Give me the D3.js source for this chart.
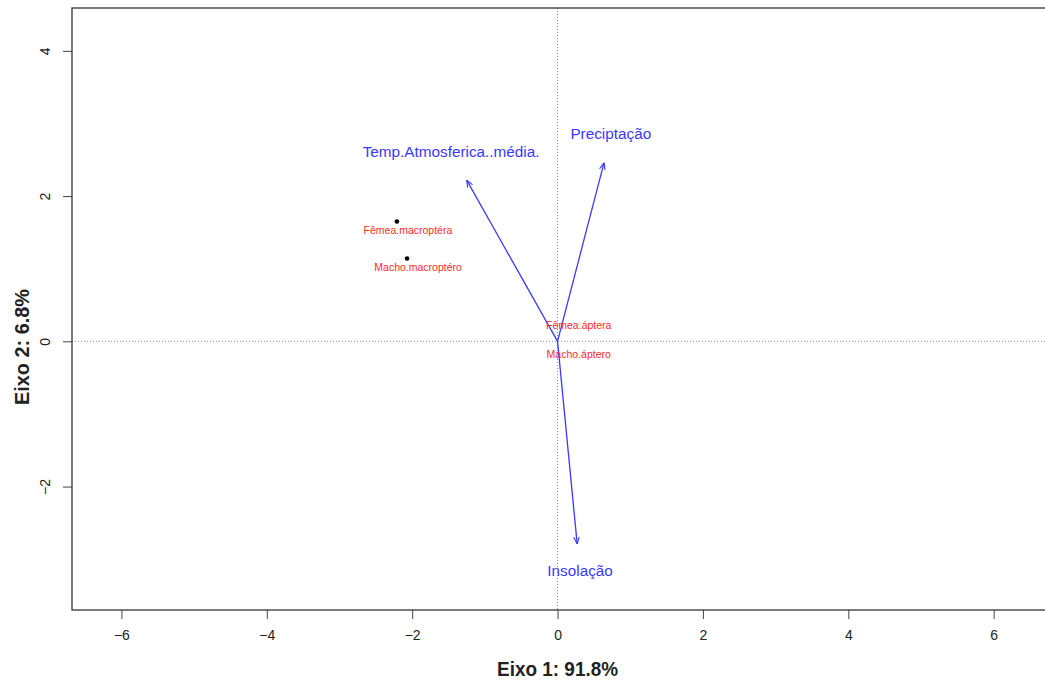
<!DOCTYPE html>
<html lang="pt">
<head>
<meta charset="utf-8">
<script src="https://d3js.org/d3.v7.min.js"></script>
<style>
  body { margin: 0; background: #fff; }
  svg { display: block; font-family: "Liberation Sans", Arial, sans-serif; }
  .tick text { font-size: 14px; fill: #222; }
  .axis-title { font-family: "Liberation Sans Narrow", "Arial Narrow", "Liberation Sans", sans-serif; font-weight: bold; font-size: 21px; fill: #222; }
</style>
</head>
<body>
<svg id="chart" width="1045" height="684"></svg>
<script>
// site scores (points) and their labels
var siteNames = ["Fêmea.macroptéra", "Macho.macroptéro", "Fêmea.áptera", "Macho.áptero"];
var siteX = [-2.21, -2.07, 0.14, 0.14];
var siteY = [1.65, 1.14, 0.35, -0.05];
var siteDot = [true, true, false, false];

// environmental vectors (arrow tips and label spots)
var envNames = ["Temp.Atmosferica..média.", "Precipta\u00e7\u00e3o", "Insola\u00e7\u00e3o"];
var envX = [-1.25, 0.64, 0.27];
var envY = [2.22, 2.46, -2.79];
var envLabelX = [-1.465, 0.733, 0.31];
var envLabelY = [2.61, 2.86, -3.16];

var xTicks = [-6, -4, -2, 0, 2, 4, 6];
var yTicks = [-2, 0, 2, 4];

var svg = d3.select("#chart");
var mLeft = 72, mTop = 8, mRight = 1046, mBottom = 610;

var x = d3.scaleLinear().domain([-6.68, 6.72]).range([mLeft, mRight]);
var y = d3.scaleLinear().domain([-3.70, 4.59]).range([mBottom, mTop]);

/* axes */
svg.append("g")
    .attr("transform", "translate(0," + mBottom + ")")
    .call(d3.axisBottom(x).tickValues(xTicks).tickSize(9).tickPadding(11).tickSizeOuter(0))
    .call(function(g) { g.select(".domain").remove(); })
    .call(function(g) { g.selectAll(".tick line").attr("stroke", "#444"); });

svg.append("g")
    .attr("transform", "translate(" + mLeft + ",0)")
    .call(d3.axisLeft(y).tickValues(yTicks).tickSize(9).tickSizeOuter(0))
    .call(function(g) { g.select(".domain").remove(); })
    .call(function(g) {
      g.selectAll(".tick line").attr("stroke", "#444");
      g.selectAll(".tick text")
        .attr("x", 0).attr("dx", 0).attr("dy", 0)
        .attr("text-anchor", "middle")
        .attr("transform", "translate(-22,0) rotate(-90)");
    });

/* zero lines */
svg.append("line")
    .attr("x1", x(0)).attr("x2", x(0)).attr("y1", mTop).attr("y2", mBottom)
    .attr("stroke", "#888").attr("stroke-dasharray", "1,2");
svg.append("line")
    .attr("x1", mLeft).attr("x2", mRight).attr("y1", y(0)).attr("y2", y(0))
    .attr("stroke", "#888").attr("stroke-dasharray", "1,2");

/* box */
svg.append("rect")
    .attr("x", mLeft).attr("y", mTop)
    .attr("width", mRight - mLeft).attr("height", mBottom - mTop)
    .attr("fill", "none").attr("stroke", "#333").attr("stroke-width", 1.3);

/* arrows */
svg.append("defs").append("marker")
    .attr("id", "head")
    .attr("viewBox", "0 0 10 10")
    .attr("refX", 10).attr("refY", 5)
    .attr("markerWidth", 7).attr("markerHeight", 7)
    .attr("markerUnits", "userSpaceOnUse")
    .attr("orient", "auto")
  .append("path")
    .attr("d", "M0,1 L10,5 L0,9")
    .attr("fill", "none").attr("stroke", "#3a3aff").attr("stroke-width", 1.6);

var env = envNames.map(function(n, i) {
  return {name: n, x: envX[i], y: envY[i], lx: envLabelX[i], ly: envLabelY[i]};
});

svg.append("g").selectAll("line")
  .data(env).enter().append("line")
    .attr("x1", x(0)).attr("y1", y(0))
    .attr("x2", function(d) { return x(d.x); })
    .attr("y2", function(d) { return y(d.y); })
    .attr("stroke", "#3a3aff").attr("stroke-width", 1.3)
    .attr("marker-end", "url(#head)");

svg.append("g").selectAll("text")
  .data(env).enter().append("text")
    .attr("x", function(d) { return x(d.lx); })
    .attr("y", function(d) { return y(d.ly); })
    .attr("dy", "0.35em")
    .attr("text-anchor", "middle")
    .attr("fill", "#3a3aff")
    .style("font-size", "15.3px")
    .text(function(d) { return d.name; });

/* sites */
var sites = siteNames.map(function(n, i) { return {name: n, x: siteX[i], y: siteY[i], dot: siteDot[i]}; });

svg.append("g").selectAll("circle")
  .data(sites.filter(function(d) { return d.dot; })).enter().append("circle")
    .attr("cx", function(d) { return x(d.x); })
    .attr("cy", function(d) { return y(d.y); })
    .attr("r", 2.3)
    .attr("fill", "#000");

svg.append("g").selectAll("text")
  .data(sites).enter().append("text")
    .attr("x", function(d) { return x(d.x) + 11; })
    .attr("y", function(d) { return y(d.y) + 9; })
    .attr("dy", "0.35em")
    .attr("text-anchor", "middle")
    .attr("fill", "#ff2a2a")
    .style("font-size", "10.5px")
    .text(function(d) { return d.name; });

/* axis titles */
svg.append("text").attr("class", "axis-title")
    .attr("x", x(0)).attr("y", 676)
    .attr("text-anchor", "middle")
    .attr("textLength", 121).attr("lengthAdjust", "spacingAndGlyphs")
    .text("Eixo 1: 91.8%");

svg.append("text").attr("class", "axis-title")
    .attr("transform", "translate(29," + 347 + ") rotate(-90)")
    .attr("text-anchor", "middle")
    .attr("textLength", 116).attr("lengthAdjust", "spacingAndGlyphs")
    .text("Eixo 2: 6.8%");
</script>
</body>
</html>
